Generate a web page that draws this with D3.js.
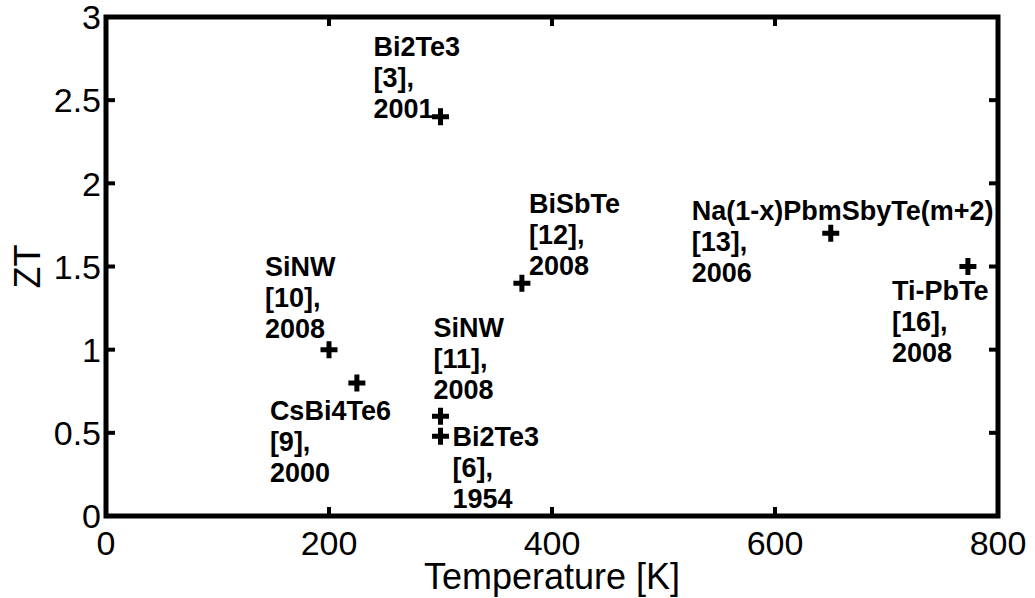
<!DOCTYPE html>
<html>
<head>
<meta charset="utf-8">
<script src="https://cdn.jsdelivr.net/npm/d3@7"></script>
<style>
  html, body { margin: 0; padding: 0; background: #fff; }
  svg { display: block; }
  text { font-family: "Liberation Sans", Arial, Helvetica, sans-serif; fill: #000; }
</style>
</head>
<body>
<svg id="chart" width="1035" height="598"></svg>
<script>
// Reported thermoelectric figure of merit versus operating temperature
const materials   = ["Bi2Te3", "BiSbTe", "SiNW", "CsBi4Te6", "SiNW", "Bi2Te3", "Na(1-x)PbmSbyTe(m+2)", "Ti-PbTe"];
const references  = ["[3],", "[12],", "[10],", "[9],", "[11],", "[6],", "[13],", "[16],"];
const years       = ["2001", "2008", "2008", "2000", "2008", "1954", "2006", "2008"];
const temperature = [300, 373, 200, 225, 300, 300, 650, 773];   // K
const zt          = [2.4, 1.4, 1.0, 0.8, 0.6, 0.48, 1.7, 1.5];

const xTicks = [0, 200, 400, 600, 800];
const yTicks = [0, 0.5, 1, 1.5, 2, 2.5, 3];
const yTickLabels = ["0", "0.5", "1", "1.5", "2", "2.5", "3"];

// Label placement relative to each marker (pixels: left edge, first baseline)
const labelOffsets = [
  [-67, -61], [7, -70], [-64, -74], [-87, 37],
  [-7, -79], [12, 10], [-139, -13], [-76, 33]
];

const svg = d3.select("#chart");
const plotLeft = 106, plotRight = 998, plotTop = 17, plotBottom = 516;

const x = d3.scaleLinear().domain([0, 800]).range([plotLeft, plotRight]);
const y = d3.scaleLinear().domain([0, 3]).range([plotBottom, plotTop]);

// Inward ticks on all four sides
const tickLen = 9;
const axisG = svg.append("g");
xTicks.forEach(t => {
  axisG.append("line").attr("x1", x(t)).attr("x2", x(t)).attr("y1", plotBottom).attr("y2", plotBottom - tickLen)
    .attr("stroke", "#000").attr("stroke-width", 4);
  axisG.append("line").attr("x1", x(t)).attr("x2", x(t)).attr("y1", plotTop).attr("y2", plotTop + tickLen)
    .attr("stroke", "#000").attr("stroke-width", 4);
});
yTicks.forEach(t => {
  axisG.append("line").attr("x1", plotLeft).attr("x2", plotLeft + tickLen).attr("y1", y(t)).attr("y2", y(t))
    .attr("stroke", "#000").attr("stroke-width", 4);
  axisG.append("line").attr("x1", plotRight).attr("x2", plotRight - tickLen).attr("y1", y(t)).attr("y2", y(t))
    .attr("stroke", "#000").attr("stroke-width", 4);
});

// Axes box
svg.append("rect")
  .attr("x", plotLeft).attr("y", plotTop)
  .attr("width", plotRight - plotLeft).attr("height", plotBottom - plotTop)
  .attr("fill", "none").attr("stroke", "#000").attr("stroke-width", 5);

// Tick labels
svg.append("g").selectAll("text").data(xTicks).join("text")
  .attr("x", d => x(d)).attr("y", 555)
  .attr("text-anchor", "middle").attr("font-size", 34)
  .text(d => d);

svg.append("g").selectAll("text").data(yTicks).join("text")
  .attr("x", 101).attr("y", d => y(d)).attr("dy", "0.36em")
  .attr("text-anchor", "end").attr("font-size", 34)
  .text((d, i) => yTickLabels[i]);

// Axis titles
svg.append("text")
  .attr("x", (plotLeft + plotRight) / 2).attr("y", 589)
  .attr("text-anchor", "middle").attr("font-size", 36)
  .text("Temperature [K]");

svg.append("text")
  .attr("transform", `translate(40, ${(plotTop + plotBottom) / 2}) rotate(-90)`)
  .attr("text-anchor", "middle").attr("font-size", 36)
  .text("ZT");

// Plus markers
const plus = "M-8.5,0H8.5M0,-8.5V8.5";
svg.append("g").selectAll("path").data(temperature).join("path")
  .attr("d", plus)
  .attr("transform", (d, i) => `translate(${x(d)},${y(zt[i])})`)
  .attr("fill", "none").attr("stroke", "#000").attr("stroke-width", 5);

// Three-line annotations: material, reference, year
const lineGap = 31;
const labels = svg.append("g").selectAll("text").data(temperature).join("text")
  .attr("font-size", 27).attr("font-weight", "bold")
  .attr("x", (d, i) => x(d) + labelOffsets[i][0])
  .attr("y", (d, i) => y(zt[i]) + labelOffsets[i][1]);

labels.each(function(d, i) {
  const t = d3.select(this);
  const x0 = x(d) + labelOffsets[i][0];
  [materials[i], references[i], years[i]].forEach((s, k) => {
    t.append("tspan").attr("x", x0).attr("dy", k === 0 ? 0 : lineGap).text(s);
  });
});
</script>
</body>
</html>
